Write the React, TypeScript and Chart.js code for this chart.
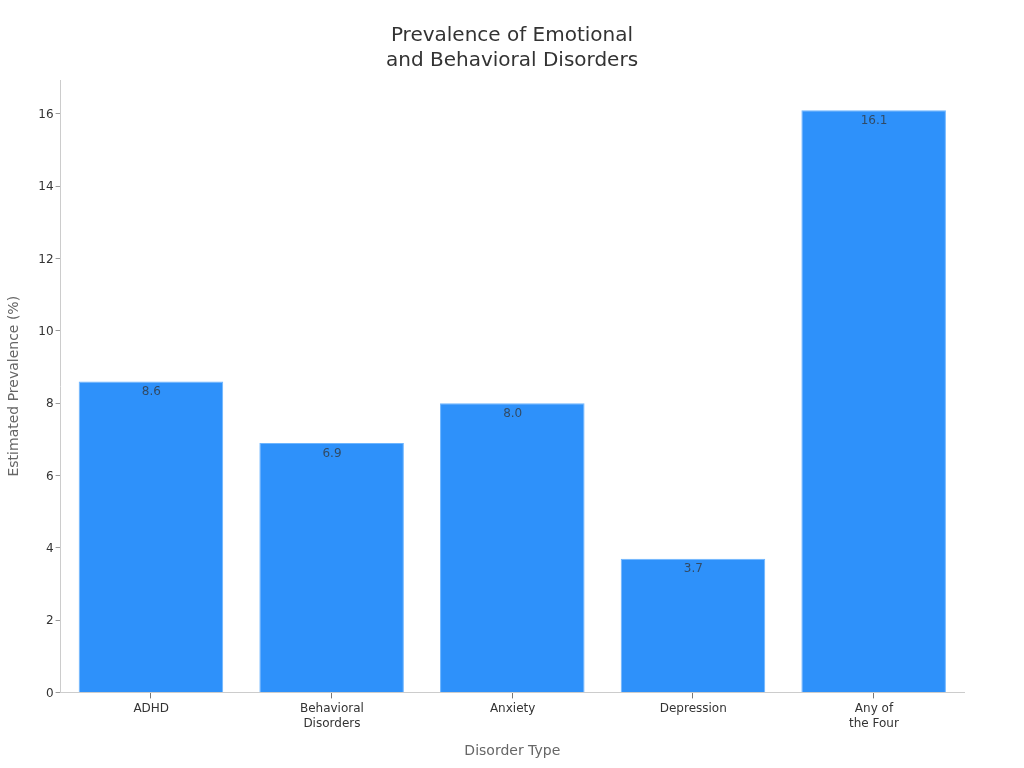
import React, { useEffect, useRef } from "react";
import { Chart, registerables } from "chart.js";

Chart.register(...registerables);

const categories = [["ADHD"], ["Behavioral", "Disorders"], ["Anxiety"], ["Depression"], ["Any of", "the Four"]];
const prevalence = [8.6, 6.9, 8.0, 3.7, 16.1];
const valueLabels = ["8.6", "6.9", "8.0", "3.7", "16.1"];
const chartTitle = ["Prevalence of Emotional", "and Behavioral Disorders"];
const xTitle = "Disorder Type";
const yTitle = "Estimated Prevalence (%)";
const yMax = 16.94;

const FONT = "'DejaVu Sans'";

const valueLabelPlugin = {
  id: "valueLabels",
  afterLayout(chart: any) {
    // centre the title on the whole canvas rather than the padded layout box
    if (chart.titleBlock) {
      chart.titleBlock.left = 0;
      chart.titleBlock.right = chart.width;
    }
  },
  afterDatasetsDraw(chart: any) {
    const { ctx } = chart;
    const meta = chart.getDatasetMeta(0);
    ctx.save();
    ctx.font = `12px ${FONT}`;
    ctx.fillStyle = "rgba(51,51,51,0.75)";
    ctx.textAlign = "center";
    ctx.textBaseline = "middle";
    meta.data.forEach((bar: any, i: number) => {
      ctx.fillText(valueLabels[i], bar.x + 0.4, bar.y + 10.7);
    });
    ctx.restore();
  },
};

export default function App() {
  const ref = useRef<HTMLCanvasElement>(null);
  useEffect(() => {
    document.body.style.margin = "0";
    const chart = new Chart(ref.current!, {
      type: "bar",
      data: {
        labels: categories as any,
        datasets: [
          {
            data: prevalence,
            backgroundColor: "#2E91FA",
            borderColor: "#6DB5FF",
            borderWidth: 1,
            barPercentage: 0.8,
            categoryPercentage: 1,
          },
        ],
      },
      plugins: [valueLabelPlugin],
      options: {
        responsive: false,
        animation: false,
        layout: { padding: { top: 23, right: 60, bottom: 8, left: 0 } },
        plugins: {
          legend: { display: false },
          tooltip: { enabled: false },
          title: {
            display: true,
            text: chartTitle,
            color: "#333333",
            font: { family: FONT, size: 20, weight: "normal", lineHeight: 1.25 },
            padding: { top: 0, bottom: 7 },
          },
        },
        scales: {
          x: {
            grid: { drawOnChartArea: false, offset: false, color: "#777777", tickLength: 6 },
            border: { color: "#CCCCCC", width: 1 },
            ticks: {
              color: "#333333",
              font: { family: FONT, size: 12, lineHeight: 1.25 },
              padding: 2.5,
              labelOffset: 0.3,
              maxRotation: 0,
            },
            title: {
              display: true,
              text: xTitle,
              color: "#666666",
              font: { family: FONT, size: 14 },
              padding: { top: 10, bottom: 0 },
            },
            afterFit(scale: any) {
              scale.height = 67.6;
            },
          },
          y: {
            min: 0,
            max: yMax,
            grid: { drawOnChartArea: false, color: "#999999", tickLength: 5 },
            border: { color: "#CCCCCC", width: 1 },
            ticks: { stepSize: 2, color: "#333333", font: { family: FONT, size: 12 }, padding: 2, labelOffset: 1 },
            title: {
              display: true,
              text: yTitle,
              color: "#666666",
              font: { family: FONT, size: 14 },
              padding: { top: 6, bottom: 0 },
            },
            afterBuildTicks(scale: any) {
              scale.ticks = scale.ticks.filter((t: any) => t.value % 2 === 0);
            },
            afterFit(scale: any) {
              scale.width = 60.6;
            },
          },
        },
      } as any,
    });
    return () => chart.destroy();
  }, []);
  return <canvas ref={ref} width={1024} height={768} style={{ display: "block" }} />;
}
